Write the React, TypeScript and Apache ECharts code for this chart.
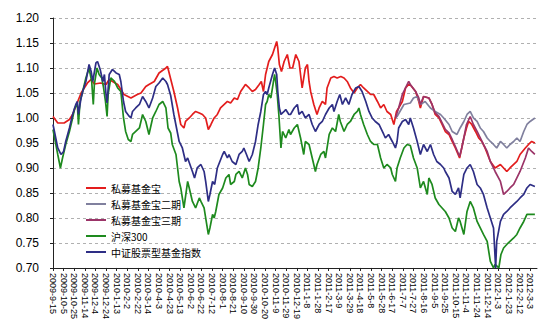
import React, { useEffect, useRef } from 'react';
import * as echarts from 'echarts';

// x = calendar days since 2009-9-15, ticks every 20 days
const TICK_LABELS = [
  '2009-9-15', '2009-10-5', '2009-10-25', '2009-11-14', '2009-12-4', '2009-12-24',
  '2010-1-13', '2010-2-2', '2010-2-22', '2010-3-14', '2010-4-3', '2010-4-23', '2010-5-13',
  '2010-6-2', '2010-6-22', '2010-7-12', '2010-8-1', '2010-8-21', '2010-9-10', '2010-9-30',
  '2010-10-20', '2010-11-9', '2010-11-29', '2010-12-19', '2011-1-8', '2011-1-28', '2011-2-17',
  '2011-3-9', '2011-3-29', '2011-4-18', '2011-5-8', '2011-5-28', '2011-6-17', '2011-7-7',
  '2011-7-27', '2011-8-16', '2011-9-5', '2011-9-25', '2011-10-15', '2011-11-4', '2011-11-24',
  '2011-12-14', '2012-1-3', '2012-1-23', '2012-2-12', '2012-3-3',
];

const NAMES = ['私募基金宝', '私募基金宝二期', '私募基金宝三期', '沪深300', '中证股票型基金指数'];
const COLORS = ['#e31d1d', '#80809e', '#9b3468', '#1e8a1e', '#2e2e85'];

const FUND1: [number, number][] = [
  [0, 1.003], [9, 0.99], [21, 0.99], [31, 0.997], [37, 1.007], [53, 1.05], [65, 1.07], [72, 1.077],
  [78, 1.068], [90, 1.07], [100, 1.067], [106, 1.077], [122, 1.067], [134, 1.047], [147, 1.04], [159, 1.047],
  [166, 1.05], [175, 1.063], [181, 1.067], [191, 1.073], [200, 1.09], [213, 1.1], [216, 1.103], [222, 1.078],
  [228, 1.053], [235, 1.02], [241, 0.987], [247, 0.98], [250, 0.993], [257, 1.0], [263, 1.007], [269, 1.013],
  [276, 1.01], [282, 1.007], [288, 1.0], [293, 0.977], [298, 0.987], [304, 1.0], [310, 1.007], [316, 1.02],
  [323, 1.027], [329, 1.033], [335, 1.03], [342, 1.04], [348, 1.037], [354, 1.053], [363, 1.067], [370, 1.06],
  [376, 1.053], [382, 1.057], [389, 1.067], [393, 1.073], [397, 1.053], [401, 1.087], [407, 1.113], [414, 1.127],
  [418, 1.14], [422, 1.153], [424, 1.14], [427, 1.107], [431, 1.093], [436, 1.113], [442, 1.127], [447, 1.1],
  [452, 1.1], [458, 1.127], [464, 1.113], [470, 1.06], [476, 1.1], [480, 1.107], [483, 1.073], [486, 1.053],
  [492, 1.027], [498, 1.007], [502, 1.02], [508, 1.033], [514, 1.027], [517, 1.06], [524, 1.08], [530, 1.083],
  [536, 1.08], [543, 1.083], [549, 1.08], [555, 1.073], [561, 1.06], [568, 1.05], [574, 1.06], [580, 1.067],
  [586, 1.06], [593, 1.053], [599, 1.047], [605, 1.047], [612, 1.033], [618, 1.02], [624, 1.027], [630, 1.013],
  [637, 1.007], [643, 0.987], [648, 1.013], [652, 1.02], [659, 1.033], [665, 1.06], [671, 1.067], [675, 1.065],
  [684, 1.053], [690, 1.033], [693, 1.02], [699, 1.043], [709, 1.04], [715, 1.027], [721, 1.007], [728, 1.0],
  [734, 0.987], [740, 0.973], [747, 0.967], [753, 0.953], [759, 0.94], [767, 0.92], [771, 0.94], [775, 0.96],
  [780, 0.98], [784, 0.993], [790, 0.987], [797, 0.973], [803, 0.96], [809, 0.953], [815, 0.94], [825, 0.913],
  [834, 0.9], [844, 0.907], [850, 0.9], [856, 0.893], [862, 0.9], [869, 0.907], [875, 0.913], [881, 0.927],
  [891, 0.94], [897, 0.947], [903, 0.953], [909, 0.95],
];

const FUND2: [number, number][] = [
  [646, 1.0], [649, 1.003], [662, 1.027], [674, 1.03], [680, 1.04], [687, 1.043], [693, 1.027], [702, 1.033],
  [712, 1.02], [721, 1.013], [731, 1.007], [737, 1.0], [747, 0.987], [753, 0.973], [762, 0.967], [768, 0.98],
  [775, 0.993], [781, 1.007], [787, 1.013], [793, 1.0], [800, 0.993], [806, 0.98], [812, 0.973], [819, 0.96],
  [825, 0.953], [831, 0.947], [837, 0.94], [844, 0.953], [850, 0.947], [856, 0.94], [862, 0.947], [869, 0.953],
  [875, 0.96], [881, 0.953], [888, 0.973], [894, 0.987], [900, 0.993], [909, 1.0],
];

const FUND3: [number, number][] = [
  [646, 1.0], [652, 1.02], [659, 1.047], [671, 1.073], [674, 1.067], [684, 1.053], [690, 1.04], [693, 1.027],
  [699, 1.043], [709, 1.04], [715, 1.027], [721, 1.01], [728, 1.003], [734, 0.99], [740, 0.977], [747, 0.97],
  [753, 0.957], [759, 0.943], [767, 0.923], [771, 0.94], [775, 0.96], [780, 0.987], [787, 1.003], [793, 0.987],
  [800, 0.973], [806, 0.96], [812, 0.947], [819, 0.933], [825, 0.913], [834, 0.893], [844, 0.873], [850, 0.847],
  [856, 0.853], [862, 0.86], [869, 0.867], [875, 0.88], [881, 0.893], [891, 0.92], [897, 0.94], [903, 0.933],
  [909, 0.927],
];

const HS300: [number, number][] = [
  [0, 0.977], [9, 0.927], [14, 0.9], [18, 0.92], [24, 0.947], [31, 0.973], [37, 1.0], [41, 1.02],
  [46, 1.027], [48, 0.987], [51, 1.033], [56, 1.053], [62, 1.08], [68, 1.1], [73, 1.073], [76, 1.027],
  [78, 1.067], [83, 1.1], [87, 1.087], [92, 1.08], [95, 1.063], [99, 1.033], [102, 1.003], [104, 1.047],
  [109, 1.08], [116, 1.073], [122, 1.06], [128, 1.053], [133, 1.0], [137, 0.973], [142, 0.957], [147, 0.953],
  [150, 0.967], [156, 0.973], [163, 0.98], [169, 1.007], [175, 0.993], [181, 0.967], [188, 1.0], [194, 1.013],
  [200, 1.027], [207, 1.033], [213, 1.02], [217, 0.98], [222, 0.97], [225, 0.947], [232, 0.927], [238, 0.873],
  [241, 0.86], [247, 0.82], [254, 0.873], [257, 0.86], [263, 0.833], [269, 0.82], [276, 0.84], [279, 0.833],
  [285, 0.82], [288, 0.8], [293, 0.767], [296, 0.78], [301, 0.807], [304, 0.8], [307, 0.813], [313, 0.847],
  [320, 0.86], [326, 0.88], [332, 0.887], [335, 0.867], [342, 0.873], [345, 0.887], [351, 0.893], [357, 0.88],
  [363, 0.9], [367, 0.887], [370, 0.867], [376, 0.863], [382, 0.873], [387, 0.9], [392, 0.94], [397, 0.987],
  [401, 1.027], [404, 1.033], [407, 1.047], [411, 1.04], [414, 1.06], [418, 1.087], [420, 1.073], [423, 1.047],
  [426, 1.007], [430, 0.94], [433, 0.973], [439, 0.96], [445, 0.977], [448, 0.967], [455, 0.98], [461, 0.987],
  [467, 0.96], [473, 0.927], [476, 0.953], [483, 0.947], [489, 0.92], [495, 0.893], [498, 0.907], [505, 0.927],
  [511, 0.933], [514, 0.92], [521, 0.967], [527, 0.98], [533, 0.973], [539, 1.007], [542, 0.993], [549, 0.973],
  [555, 0.987], [561, 0.993], [568, 1.007], [574, 1.013], [577, 1.02], [580, 1.007], [586, 0.987], [593, 0.967],
  [599, 0.953], [605, 0.947], [612, 0.947], [618, 0.92], [624, 0.9], [630, 0.907], [637, 0.9], [640, 0.887],
  [646, 0.873], [649, 0.9], [655, 0.92], [662, 0.94], [668, 0.947], [674, 0.945], [680, 0.92], [687, 0.9],
  [693, 0.86], [699, 0.873], [706, 0.847], [709, 0.88], [715, 0.867], [721, 0.84], [728, 0.827], [734, 0.82],
  [740, 0.813], [747, 0.8], [753, 0.78], [759, 0.773], [765, 0.8], [768, 0.793], [775, 0.767], [781, 0.813],
  [787, 0.833], [793, 0.82], [800, 0.793], [806, 0.78], [812, 0.767], [819, 0.753], [825, 0.713], [831, 0.7],
  [834, 0.707], [841, 0.7], [845, 0.727], [850, 0.74], [856, 0.747], [862, 0.753], [869, 0.76], [875, 0.767],
  [881, 0.78], [888, 0.793], [894, 0.807], [900, 0.807], [909, 0.807],
];

const CSI_FUND: [number, number][] = [
  [0, 0.987], [9, 0.94], [15, 0.927], [20, 0.933], [24, 0.953], [31, 0.98], [37, 1.007], [43, 1.027],
  [46, 1.033], [48, 1.007], [53, 1.04], [56, 1.053], [62, 1.073], [68, 1.107], [72, 1.093], [75, 1.073],
  [81, 1.11], [84, 1.113], [89, 1.097], [94, 1.073], [97, 1.087], [100, 1.047], [102, 1.03], [106, 1.087],
  [112, 1.097], [119, 1.09], [125, 1.087], [128, 1.073], [133, 1.033], [137, 1.013], [144, 1.003], [147, 1.0],
  [150, 1.013], [156, 1.02], [163, 1.027], [169, 1.043], [175, 1.033], [181, 1.02], [188, 1.04], [194, 1.063],
  [200, 1.07], [207, 1.08], [213, 1.073], [216, 1.067], [222, 1.045], [228, 1.007], [238, 0.953], [244, 0.94],
  [250, 0.913], [254, 0.92], [263, 0.893], [267, 0.88], [272, 0.9], [279, 0.907], [285, 0.893], [288, 0.873],
  [293, 0.833], [296, 0.847], [301, 0.873], [305, 0.867], [310, 0.9], [320, 0.927], [323, 0.933], [329, 0.92],
  [332, 0.927], [338, 0.913], [345, 0.907], [351, 0.927], [357, 0.933], [360, 0.94], [365, 0.927], [370, 0.913],
  [376, 0.927], [382, 0.953], [387, 0.987], [392, 1.013], [397, 1.047], [401, 1.053], [404, 1.047], [407, 1.06],
  [414, 1.087], [418, 1.1], [422, 1.087], [424, 1.053], [427, 1.02], [430, 1.007], [436, 1.013], [439, 1.017],
  [445, 1.007], [448, 1.007], [455, 1.02], [461, 1.027], [464, 1.007], [470, 1.013], [476, 1.0], [483, 1.007],
  [489, 0.987], [495, 0.973], [502, 0.987], [508, 0.993], [514, 1.007], [521, 1.02], [527, 1.027], [530, 1.013],
  [536, 1.033], [541, 1.047], [546, 1.027], [552, 1.04], [558, 1.027], [564, 1.047], [571, 1.06], [577, 1.063],
  [583, 1.053], [590, 1.033], [596, 1.013], [602, 1.0], [608, 0.993], [615, 0.987], [624, 0.967], [627, 0.96],
  [633, 0.967], [640, 0.953], [646, 0.94], [649, 0.953], [652, 0.98], [659, 0.993], [665, 0.997], [671, 0.987],
  [674, 1.0], [680, 0.98], [687, 0.953], [693, 0.927], [699, 0.947], [706, 0.933], [712, 0.947], [718, 0.927],
  [724, 0.913], [731, 0.907], [737, 0.9], [740, 0.893], [747, 0.88], [753, 0.853], [759, 0.847], [765, 0.86],
  [768, 0.84], [775, 0.887], [781, 0.9], [787, 0.907], [793, 0.893], [800, 0.867], [806, 0.86], [812, 0.847],
  [819, 0.82], [825, 0.8], [831, 0.78], [835, 0.7], [837, 0.753], [844, 0.793], [850, 0.807], [856, 0.813],
  [862, 0.82], [869, 0.827], [875, 0.833], [881, 0.84], [888, 0.847], [894, 0.86], [900, 0.867], [909, 0.863],
];

const SERIES_DATA = [FUND1, FUND2, FUND3, HS300, CSI_FUND];

export default function App() {
  const ref = useRef<HTMLDivElement>(null);
  useEffect(() => {
    const chart = echarts.init(ref.current!, null, { renderer: 'svg' });
    chart.setOption({
      animation: false,
      backgroundColor: '#ffffff',
      grid: { left: 53, right: 1, top: 18, bottom: 53, containLabel: false },
      legend: {
        orient: 'vertical',
        left: 81,
        top: 177,
        itemWidth: 20,
        itemHeight: 2,
        itemGap: 4,
        icon: 'rect',
        textStyle: { fontSize: 10, lineHeight: 12, color: '#000', fontFamily: 'Noto Sans CJK SC' },
        data: NAMES,
      },
      xAxis: {
        type: 'value',
        min: 0,
        max: 913,
        interval: 20,
        splitLine: { show: false },
        axisLine: { show: true, lineStyle: { color: '#222', width: 1 } },
        axisTick: { show: true, length: 3, lineStyle: { color: '#222' } },
        axisLabel: {
          rotate: -90,
          margin: 5,
          fontSize: 9,
          color: '#000',
          fontFamily: 'Liberation Sans',
          showMaxLabel: false,
          formatter: (v: number) => {
            const i = Math.round(v / 20);
            return Math.abs(v - i * 20) < 0.01 && TICK_LABELS[i] ? TICK_LABELS[i] : '';
          },
        },
      },
      yAxis: {
        type: 'value',
        min: 0.7,
        max: 1.2,
        interval: 0.05,
        axisLine: { show: true, lineStyle: { color: '#222', width: 1 } },
        axisTick: { show: true, length: 3, lineStyle: { color: '#222' } },
        axisLabel: {
          margin: 14,
          fontSize: 12,
          color: '#000',
          fontFamily: 'Liberation Sans',
          formatter: (v: number) => v.toFixed(2),
        },
        splitLine: { show: true, lineStyle: { color: '#b0b0b0', type: [3, 3], width: 1 } },
      },
      series: NAMES.map((name, i) => ({
        name,
        type: 'line',
        data: SERIES_DATA[i],
        showSymbol: false,
        symbol: 'none',
        lineStyle: { color: COLORS[i], width: 1.7 },
        itemStyle: { color: COLORS[i] },
        z: 2 + i,
      })),
    });
    return () => chart.dispose();
  }, []);
  return (
    <div
      ref={ref}
      style={{ position: 'fixed', left: 0, top: 0, width: 538, height: 322, background: '#fff' }}
    />
  );
}
